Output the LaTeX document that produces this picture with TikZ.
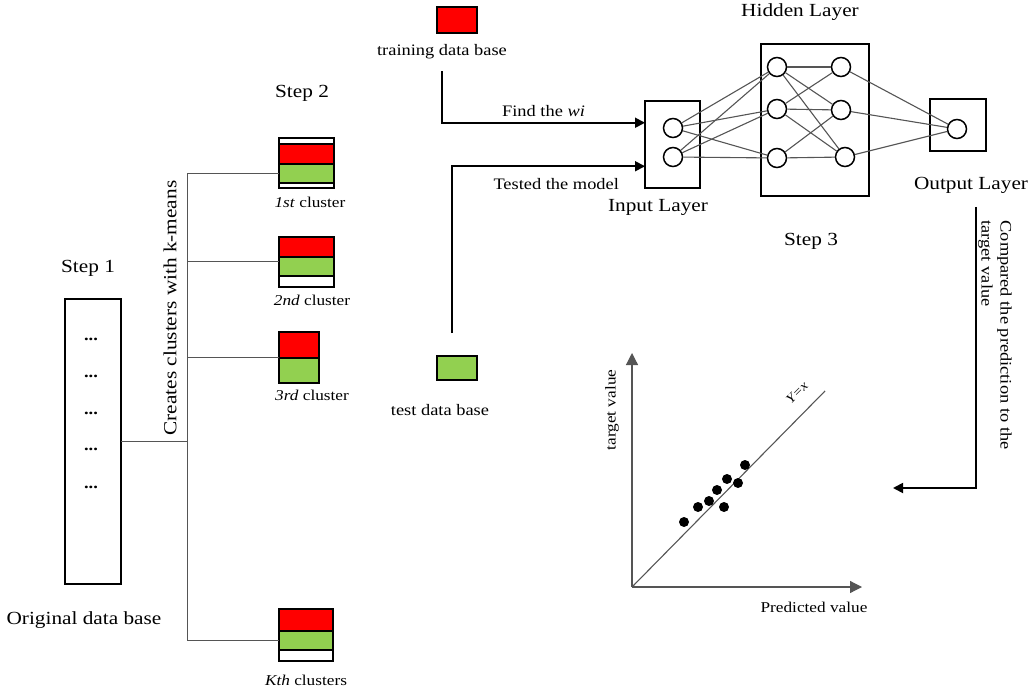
\documentclass[tikz,border=0pt]{standalone}
\usepackage{fontspec}
\setmainfont{Liberation Serif}[FakeStretch=1.15]
\usetikzlibrary{positioning,arrows.meta,calc}
\definecolor{Red}{RGB}{255,0,0}
\definecolor{Lime}{RGB}{146,208,80}
\definecolor{Wire}{RGB}{85,85,85}

\begin{document}
\begin{tikzpicture}[x=1pt,y=-1pt,
 t/.style={font=\fontsize{16}{19}\selectfont,inner sep=0pt},
 big/.style={font=\fontsize{18.5}{22}\selectfont,inner sep=0pt},
 sm/.style={font=\fontsize{15}{18}\selectfont,inner sep=0pt},
 fr/.style={draw,line width=1.8pt,inner sep=0pt,outer sep=0pt},
 bar/.style={draw,line width=1.6pt,inner sep=0pt,outer sep=0pt},
 neu/.style={circle,draw,line width=1.5pt,fill=white,minimum size=19pt,inner sep=0pt},
 w/.style={Wire,line width=1.1pt},
 ax/.style={-{Triangle[length=12pt,width=12pt]},line width=1.2pt,Wire},
 a/.style={-{Triangle[length=10pt,width=10pt]},line width=1.8pt}]
\useasboundingbox (0,0) rectangle (1032,692);

% step 1: the data base
\node[fr,minimum width=56pt,minimum height=285pt] (db) at (93,441.5) {};
\foreach \y in {339,376,413,449,487}
  \node[t] (dot\y) at (91,\y) {\textbf{...}};
\node[big] (s1) at (88,268) {Step 1};
\node[big] (dblab) at (84,620) {Original data base};
\node[big,rotate=90] (km) at (170,308) {Creates clusters with k-means};

% step 2: the clusters
\node[big] (s2) at (302,93) {Step 2};
\node[fr,minimum width=55pt,minimum height=50pt] (c1) at (306.5,163) {};
\node[bar,fill=Red,minimum width=55pt,minimum height=20pt] (c1r) at (306.5,154) {};
\node[bar,fill=Lime,minimum width=55pt,minimum height=19pt] (c1g) at (306.5,173.5) {};
\node[sm] (c1lab) at (310,202) {\textit{1st} cluster};

\node[fr,minimum width=55pt,minimum height=50pt] (c2) at (306.5,262) {};
\node[bar,fill=Red,minimum width=55pt,minimum height=20pt] (c2r) at (306.5,247) {};
\node[bar,fill=Lime,minimum width=55pt,minimum height=19pt] (c2g) at (306.5,266.5) {};
\node[sm] (c2lab) at (312,300) {\textit{2nd} cluster};

\node[fr,minimum width=40pt,minimum height=51pt] (c3) at (299,357.5) {};
\node[bar,fill=Red,minimum width=40pt,minimum height=26pt] (c3r) at (299,345) {};
\node[bar,fill=Lime,minimum width=40pt,minimum height=25pt] (c3g) at (299,370.5) {};
\node[sm] (c3lab) at (312,395) {\textit{3rd} cluster};

\node[fr,minimum width=54pt,minimum height=52pt] (ck) at (306,635) {};
\node[bar,fill=Red,minimum width=54pt,minimum height=22pt] (ckr) at (306,620) {};
\node[bar,fill=Lime,minimum width=54pt,minimum height=19pt] (ckg) at (306,640.5) {};
\node[sm] (cklab) at (306,680) {\textit{Kth} clusters};

\coordinate (trunk) at (187,0);
\draw[w,line width=1pt] (db.east) -- (db.east -| trunk);
\draw[w,line width=1pt] (c1g.west) -| (trunk |- ckg.west) -- (ckg.west);
\draw[w,line width=1pt] (c2.west) -- (c2.west -| trunk);
\draw[w,line width=1pt] (c3.west) -- (c3.west -| trunk);

% training and test sets
\node[fr,fill=Red,minimum width=40pt,minimum height=26pt] (trn) at (457,20) {};
\node[t] (trnlab) at (442,52) {training data base};
\node[fr,fill=Lime,minimum width=40pt,minimum height=24pt] (tst) at (457,368) {};
\node[t] (tstlab) at (440,410) {test data base};

% step 3: the network
\node[fr,minimum width=55pt,minimum height=87pt] (inl) at (672.5,144.5) {};
\node[fr,minimum width=108pt,minimum height=152pt] (hid) at (815,120) {};
\node[fr,minimum width=56pt,minimum height=52pt] (outl) at (958,125) {};
\node[neu] (i1) at (673,128) {};
\node[neu] (i2) at (673,157) {};
\node[neu] (h1) at (777,67) {};
\node[neu] (h2) at (777,109) {};
\node[neu] (h3) at (777,158) {};
\node[neu] (g1) at (841,67) {};
\node[neu] (g2) at (841,110) {};
\node[neu] (g3) at (845,157) {};
\node[neu] (o) at (957,129) {};
\foreach \p in {i1,i2}
  \foreach \q in {h1,h2,h3}
    \draw[w] (\p) -- (\q);
\foreach \p/\q in {h1/g1,h1/g2,h1/g3,h2/g1,h2/g2,h2/g3,h3/g2,h3/g3}
  \draw[w] (\p) -- (\q);
\foreach \p in {g1,g2,g3}
  \draw[w] (\p) -- (o);
\node[big] (inlab) at (658,207) {Input Layer};
\node[big] (hidlab) at (800,12) {Hidden Layer};
\node[big] (outlab) at (971,185) {Output Layer};
\node[big] (s3) at (811,241) {Step 3};

\coordinate (inA) at ($(inl.north west)!.25!(inl.south west)$);
\coordinate (inB) at ($(inl.north west)!.75!(inl.south west)$);
\draw[a] ([yshift=-12pt]trnlab.south) |- node[t,above=5pt,pos=.75] (fw) {Find the \textit{wi}} (inA);
\draw[a] ([xshift=-5pt,yshift=23pt]tst.north) |- node[t,below=11pt,pos=.77] (tm) {Tested the model} (inB);

% comparison
\coordinate (cmpS) at (976,207);
\coordinate (cmpE) at (893,488);
\draw[a] (cmpS) |- (cmpE);
\node[t,rotate=-90,align=left] (cmplab) at (995,335) {Compared the prediction to the\\target value};

% scatter plot
\coordinate (O) at (632,587);
\coordinate (ytop) at (632,353);
\coordinate (xend) at (862,587);
\coordinate (yx) at (825,391);
\draw[ax] (O) -- (ytop);
\draw[ax] (O) -- (xend);
\draw[w] (O) -- (yx);
\node[font=\fontsize{13}{15}\selectfont\itshape,inner sep=0pt,rotate=45] (yxlab) at (797,393) {Y=x};
\foreach \x/\y in {684/522,698/507,709/501,717/490,727/479,724/507,738/483,745/465}
  \fill (\x,\y) circle (5pt);
\node[sm,rotate=90] (tvlab) at (612,410) {target value};
\node[sm] (pvlab) at (814,607) {Predicted value};
\end{tikzpicture}
\end{document}
